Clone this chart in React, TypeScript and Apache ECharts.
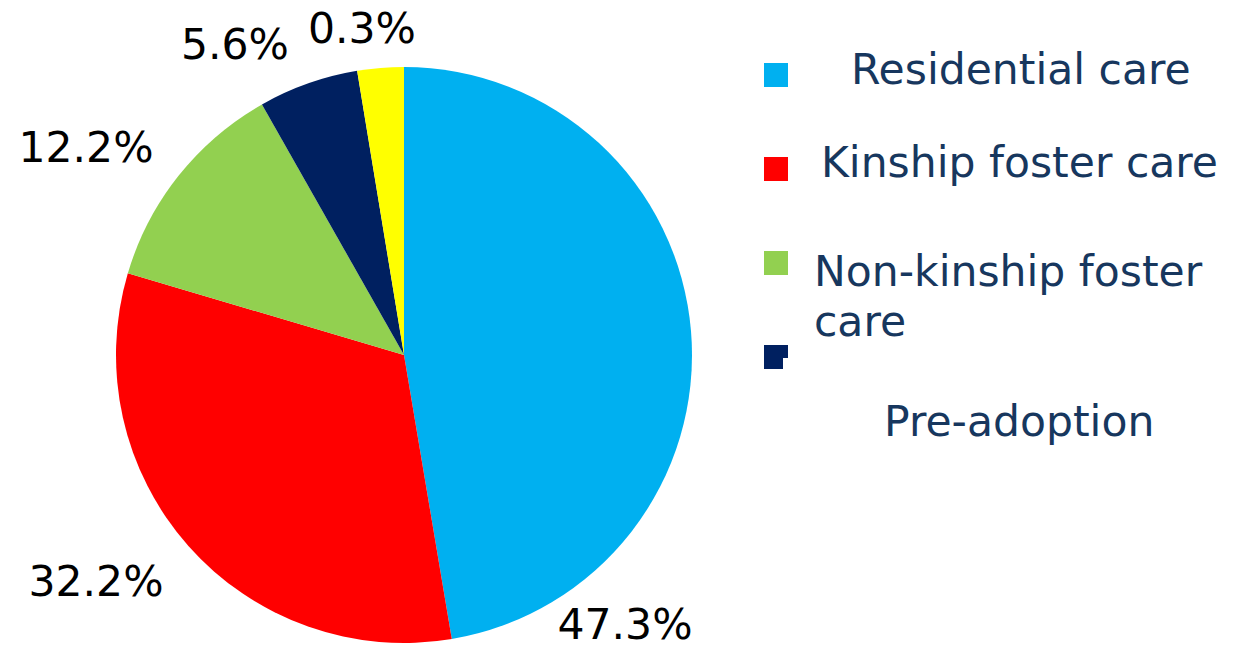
import React, { useEffect, useRef } from "react";
import * as echarts from "echarts";

const categories = ["Residential care", "Kinship foster care", "Non-kinship foster care", "Pre-adoption", "Other"];
const values = [47.3, 32.2, 12.2, 5.6, 2.6];
const labelTexts = ["47.3%", "32.2%", "12.2%", "5.6%", "0.3%"];
const colors = ["#00B0F0", "#FF0000", "#92D050", "#002060", "#FFFF00"];

// label centre positions (page px)
const labelPos: [number, number][] = [
  [625, 624],
  [96, 581],
  [86, 147],
  [235, 44],
  [362, 28],
];

const FONT = '"DejaVu Sans", Verdana, sans-serif';
const legendColor = "#17375E";

export default function App() {
  const ref = useRef<HTMLDivElement>(null);
  useEffect(() => {
    if (!ref.current) return;
    const chart = echarts.init(ref.current, undefined, { renderer: "svg" });
    const legendRows = [
      { marker: 63, lines: [{ t: categories[0], x: 851, y: 69 }] },
      { marker: 157, lines: [{ t: categories[1], x: 821, y: 162 }] },
      {
        marker: 251,
        lines: [
          { t: "Non-kinship foster", x: 814, y: 271 },
          { t: "care", x: 814, y: 321 },
        ],
      },
      { marker: 345, lines: [{ t: categories[3], x: 884, y: 421 }] },
    ];
    const graphics: any[] = [];
    legendRows.forEach((row, i) => {
      graphics.push({
        type: "rect",
        shape: { x: 764, y: row.marker, width: 24, height: 24 },
        style: { fill: colors[i] },
      });
      row.lines.forEach((ln) => {
        graphics.push({
          type: "text",
          x: ln.x,
          y: ln.y,
          style: {
            text: ln.t,
            font: `42.5px ${FONT}`,
            fill: legendColor,
            align: "left",
            verticalAlign: "middle",
          },
        });
      });
    });
    // notch on the navy marker
    graphics.push({
      type: "rect",
      shape: { x: 783, y: 358, width: 5, height: 11 },
      style: { fill: "#ffffff" },
    });

    chart.setOption({
      animation: false,
      backgroundColor: "#ffffff",
      graphic: graphics,
      series: [
        {
          type: "pie",
          center: [404, 355],
          radius: 288,
          startAngle: 90,
          clockwise: true,
          data: categories.map((c, i) => ({
            name: c,
            value: values[i],
            itemStyle: { color: colors[i] },
          })),
          label: {
            show: true,
            position: "outside",
            formatter: (p: any) => labelTexts[p.dataIndex],
            fontFamily: FONT,
            fontSize: 42.5,
            lineHeight: 40,
            color: "#000000",
            overflow: "none",
            width: 200,
          },
          labelLine: { show: false },
          labelLayout: (p: any) => ({
            x: labelPos[p.dataIndex][0],
            y: labelPos[p.dataIndex][1],
            align: "center",
            verticalAlign: "middle",
          }),
          emphasis: { disabled: true },
        },
      ],
    });
    return () => chart.dispose();
  }, []);
  return (
    <div
      ref={ref}
      style={{ position: "fixed", left: 0, top: 0, width: 1233, height: 650 }}
    />
  );
}
